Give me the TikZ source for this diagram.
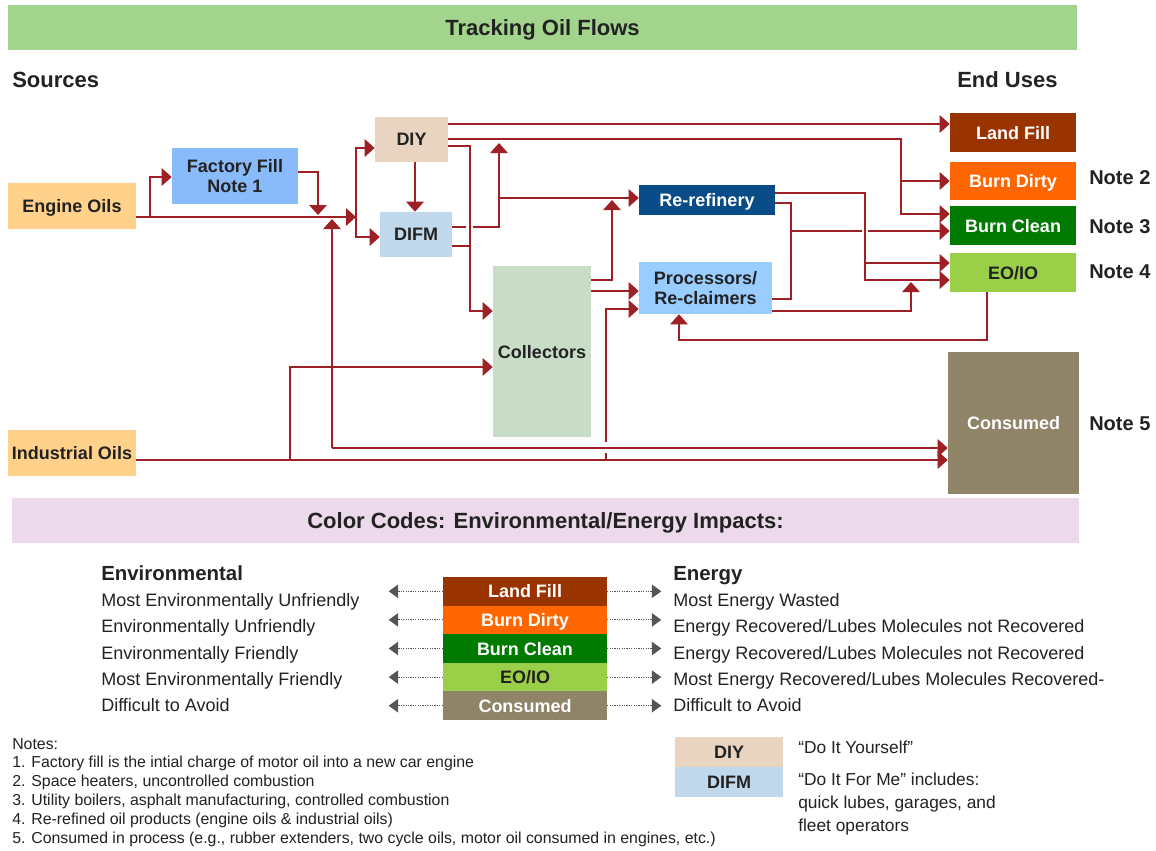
\documentclass[tikz,border=0pt]{standalone}
\usepackage{fontspec}
\setmainfont{Liberation Sans}
\usetikzlibrary{arrows.meta, calc, positioning}

\definecolor{flowred}{RGB}{158,32,36}
\definecolor{txt}{RGB}{34,34,34}
\definecolor{keygray}{RGB}{85,85,85}
\definecolor{titlegreen}{RGB}{163,212,141}
\definecolor{barpink}{RGB}{236,217,236}
\definecolor{oilcol}{RGB}{255,209,139}
\definecolor{ffcol}{RGB}{137,186,250}
\definecolor{diycol}{RGB}{232,212,192}
\definecolor{difmcol}{RGB}{192,216,236}
\definecolor{collcol}{RGB}{200,220,200}
\definecolor{rerefcol}{RGB}{10,76,135}
\definecolor{proccol}{RGB}{153,204,255}
\definecolor{landcol}{RGB}{153,51,0}
\definecolor{dirtycol}{RGB}{255,102,0}
\definecolor{cleancol}{RGB}{0,122,0}
\definecolor{eoiocol}{RGB}{153,208,72}
\definecolor{conscol}{RGB}{143,132,104}

\begin{document}
\begin{tikzpicture}[x=0.75pt, y=-0.75pt,
  box/.style={inner sep=0pt, align=center, text=txt, text depth=0pt, font=\fontsize{13.5}{15.5}\selectfont\bfseries},
  bar/.style={inner sep=0pt, text=txt, text depth=0pt, font=\fontsize{16.5}{19}\selectfont\bfseries},
  headtext/.style={anchor=base west, inner sep=0pt, text=txt, font=\fontsize{16.5}{19}\selectfont\bfseries},
  notelabel/.style={anchor=base west, inner sep=0pt, text=txt, font=\fontsize{15}{18}\selectfont\bfseries},
  legtext/.style={anchor=base west, inner sep=0pt, text=txt, font=\fontsize{13.5}{16}\selectfont},
  notetext/.style={anchor=base west, inner sep=0pt, text=txt, font=\fontsize{11.9}{14}\selectfont},
  flow/.style={draw=flowred, line width=1.45pt},
  arr/.style={flow, -{Triangle[length=7.5pt, width=13pt]}},
  dots/.style={draw=keygray, line width=0.8pt, dash pattern=on 0.8pt off 1pt, -{Triangle[length=7pt, width=10pt]}}]
  \fill[white] (0,0) rectangle (1156,850);
  \useasboundingbox (0,0) rectangle (1156,850);

  % title and side headings
  \node[bar, fill=titlegreen, minimum width=801.75pt, minimum height=33.75pt] (title) at (542.5,27.5) {Tracking Oil Flows};
  \node[headtext] (sources) at (12,87) {Sources};
  \node[headtext] (enduses) at (957,87) {End Uses};

  % sources and middle stations
  \node[box, fill=oilcol, minimum width=96pt, minimum height=34.5pt] (eng) at (72,206) {Engine Oils};
  \node[box, fill=oilcol, minimum width=96pt, minimum height=34.5pt] (ind) at (72,453) {Industrial Oils};
  \node[box, fill=ffcol, minimum width=94.5pt, minimum height=42pt] (ff) at (235,176) {Factory Fill\\Note 1};
  \node[box, fill=diycol, minimum width=54.75pt, minimum height=33.75pt] (diy) at (411.5,139.5) {DIY};
  \node[box, fill=difmcol, minimum width=54pt, minimum height=33.75pt] (difm) at (416,234.5) {DIFM};
  \node[box, fill=collcol, minimum width=73.5pt, minimum height=128.25pt] (coll) at (542,351.5) {Collectors};
  \node[box, fill=rerefcol, text=white, minimum width=102pt, minimum height=22.5pt] (reref) at (707,200) {Re-refinery};
  \node[box, fill=proccol, minimum width=99.75pt, minimum height=39pt, font=\fontsize{13.5}{14.5}\selectfont\bfseries] (proc) at (705.5,288) {Processors/\\Re-claimers};

  % end uses
  \node[box, fill=landcol, text=white, minimum width=94.5pt, minimum height=29.25pt] (land) at (1013,132.5) {Land Fill};
  \node[box, fill=dirtycol, text=white, minimum width=94.5pt, minimum height=28.5pt] (dirty) at (1013,181) {Burn Dirty};
  \node[box, fill=cleancol, text=white, minimum width=94.5pt, minimum height=29.25pt] (clean) at (1013,225.5) {Burn Clean};
  \node[box, fill=eoiocol, minimum width=94.5pt, minimum height=29.25pt] (eoio) at (1013,272.5) {EO/IO};
  \node[box, fill=conscol, text=white, minimum width=98.25pt, minimum height=106.5pt] (cons) at (1013.5,423) {Consumed};
  \node[notelabel] (n2) at (1089,184.5) {Note 2};
  \node[notelabel] (n3) at (1089,233.5) {Note 3};
  \node[notelabel] (n4) at (1089,278.5) {Note 4};
  \node[notelabel] (n5) at (1089,430.5) {Note 5};

  % junctions
  \coordinate (split) at (356,217);
  \coordinate (ffj) at (150,217);
  \coordinate (ffdrop) at (318,215);
  \coordinate (burnj) at (901,139);
  \coordinate (collj) at (470,146);
  \coordinate (upj) at (499,143);
  \coordinate (rerefj) at (612,200);
  \coordinate (procj) at (911,282);
  \coordinate (consj) at (332,448);
  \coordinate (consup) at (332,219);
  \coordinate (indj) at (290,460);
  \coordinate (indup) at (606,460);

  % engine oils
  \draw[arr] ($(eng.east)+(0,11)$) -- (split);
  \draw[arr] (ffj) |- ($(ff.west)+(0,1)$);
  \draw[arr] ($(ff.east)+(0,-4)$) -| (ffdrop);
  \draw[arr] (split) |- ($(diy.west)+(0,8.5)$);
  \draw[arr] (split) |- ($(difm.west)+(0,2.5)$);
  % DIY
  \draw[arr] ($(diy.south)+(3.5,0)$) -- ($(difm.north)+(-1,0)$);
  \draw[arr] ($(diy.east)+(0,-15.5)$) -- ($(land.west)+(0,-8.5)$);
  \draw[arr] ($(diy.east)+(0,-0.5)$) -- (burnj) |- ($(clean.west)+(0,-11.5)$);
  \draw[arr] (burnj |- dirty.west) -- (dirty.west);
  \draw[arr] ($(diy.east)+(0,6.5)$) -- (collj) |- ($(coll.west)+(0,-40.5)$);
  % DIFM
  \draw[flow] ($(difm.east)+(0,11.5)$) -- ($(difm.east)+(18,11.5)$);
  \draw[flow] ($(difm.east)+(0,-7.5)$) -- ++(14,0);
  \draw[arr] ($(difm.east)+(21,-7.5)$) -| (upj);
  \draw[arr] ($(reref.west)+(-140,-2)$) -- ($(reref.west)+(0,-2)$);
  % collectors
  \draw[arr] ($(coll.east)+(0,-71.5)$) -| (rerefj);
  \draw[arr] ($(coll.east)+(0,-60.5)$) -- ($(proc.west)+(0,3)$);
  % industrial oils
  \draw[arr] ($(ind.east)+(0,7)$) -- ($(cons.west)+(0,37)$);
  \draw[arr] (indj) |- ($(coll.west)+(0,15.5)$);
  \draw[flow] (indup) -- ++(0,-7);
  \draw[arr] ($(indup)+(0,-18)$) |- ($(proc.west)+(0,21)$);
  \draw[arr] (consj) -- (consup);
  \draw[arr] (consj) -- ($(cons.west)+(0,25)$);
  % re-refinery and processors
  \draw[arr] ($(reref.east)+(0,-7)$) -| ($(eoio.west)+(-85,7.5)$) -- ($(eoio.west)+(0,7.5)$);
  \draw[arr] ($(eoio.west)+(-85,-9.5)$) -- ($(eoio.west)+(0,-9.5)$);
  \draw[flow] ($(reref.east)+(0,3)$) -| ($(proc.east)+(19,11)$) -- ($(proc.east)+(0,11)$);
  \draw[flow] ($(proc.east)+(19,-57)$) -- ++(71,0);
  \draw[arr] ($(clean.west)+(-82,5.5)$) -- ($(clean.west)+(0,5.5)$);
  \draw[arr] ($(proc.east)+(0,23)$) -| (procj);
  \draw[arr] ($(eoio.south)+(-26,0)$) |- ($(proc.south)+(-26.5,26)$) -- ($(proc.south)+(-26.5,0)$);

  % colour codes
  \node[bar, fill=barpink, minimum width=800.25pt, minimum height=33.75pt] (codes) at (545.5,520.5) {Color Codes: Environmental/Energy Impacts:};
  \node[anchor=base west, inner sep=0pt, text=txt, font=\fontsize{15.3}{18}\selectfont\bfseries] (envhead) at (101,580) {Environmental};
  \node[anchor=base west, inner sep=0pt, text=txt, font=\fontsize{15.3}{18}\selectfont\bfseries] (enhead) at (673,580) {Energy};
  \node[box, fill=landcol, text=white, minimum width=123pt, minimum height=21.45pt] (lb1) at (525,591.3) {Land Fill};
  \node[box, fill=dirtycol, text=white, minimum width=123pt, minimum height=21.45pt] (lb2) at (525,619.9) {Burn Dirty};
  \node[box, fill=cleancol, text=white, minimum width=123pt, minimum height=21.45pt] (lb3) at (525,648.5) {Burn Clean};
  \node[box, fill=eoiocol, minimum width=123pt, minimum height=21.45pt] (lb4) at (525,677.1) {EO/IO};
  \node[box, fill=conscol, text=white, minimum width=123pt, minimum height=21.45pt] (lb5) at (525,705.7) {Consumed};
  \foreach \i in {1,...,5} {
    \draw[dots] (lb\i.west) -- ++(-54,0);
    \draw[dots] (lb\i.east) -- ++(54,0);
  }
  \node[legtext] (e1) at (101,606) {Most Environmentally Unfriendly};
  \node[legtext] (e2) at (101,632) {Environmentally Unfriendly};
  \node[legtext] (e3) at (101,659) {Environmentally Friendly};
  \node[legtext] (e4) at (101,685) {Most Environmentally Friendly};
  \node[legtext] (e5) at (101,711) {Difficult to Avoid};
  \node[legtext] (g1) at (673,606) {Most Energy Wasted};
  \node[legtext] (g2) at (673,632) {Energy Recovered/Lubes Molecules not Recovered};
  \node[legtext] (g3) at (673,659) {Energy Recovered/Lubes Molecules not Recovered};
  \node[legtext] (g4) at (673,685) {Most Energy Recovered/Lubes Molecules Recovered-};
  \node[legtext] (g5) at (673,711) {Difficult to Avoid};

  % notes
  \node[notetext] (nt0) at (12,749.5) {Notes:};
  \node[notetext] (nt1) at (12,767.5) {1. Factory fill is the intial charge of motor oil into a new car engine};
  \node[notetext] (nt2) at (12,786.5) {2. Space heaters, uncontrolled combustion};
  \node[notetext] (nt3) at (12,805.5) {3. Utility boilers, asphalt manufacturing, controlled combustion};
  \node[notetext] (nt4) at (12,824.5) {4. Re-refined oil products (engine oils \& industrial oils)};
  \node[notetext] (nt5) at (12,843.5) {5. Consumed in process (e.g., rubber extenders, two cycle oils, motor oil consumed in engines, etc.)};

  % DIY / DIFM key
  \node[box, fill=diycol, minimum width=81pt, minimum height=22.5pt] (kdiy) at (729,752) {DIY};
  \node[box, fill=difmcol, minimum width=81pt, minimum height=22.5pt] (kdifm) at (729,782) {DIFM};
  \node[legtext, font=\fontsize{13}{16}\selectfont] (kd1) at (798,753) {“Do It Yourself”};
  \node[legtext, font=\fontsize{13}{16}\selectfont] (kd2) at (798,785) {“Do It For Me” includes:};
  \node[legtext, font=\fontsize{13}{16}\selectfont] (kd3) at (798,808) {quick lubes, garages, and};
  \node[legtext, font=\fontsize{13}{16}\selectfont] (kd4) at (798,831) {fleet operators};
\end{tikzpicture}
\end{document}
